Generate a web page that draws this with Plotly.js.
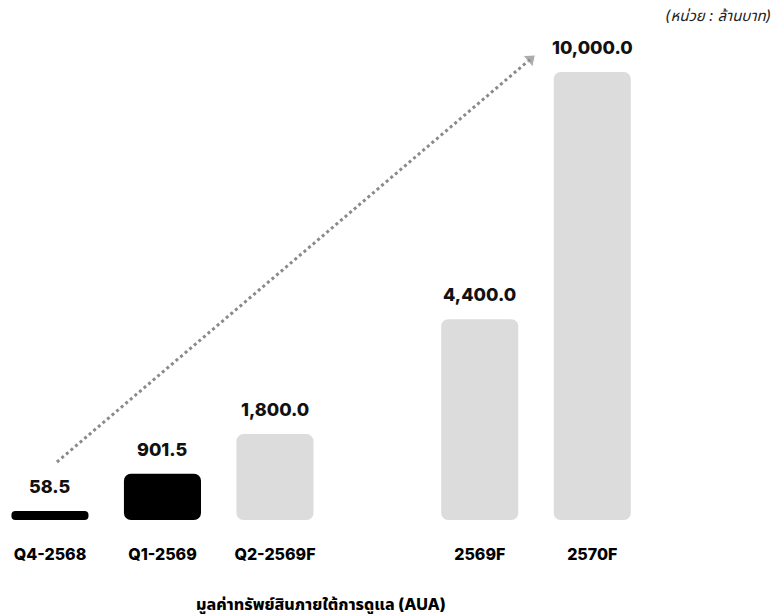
<!DOCTYPE html>
<html>
<head>
<meta charset="utf-8">
<script src="https://cdn.plot.ly/plotly-3.0.1.min.js"></script>
<style>html,body{margin:0;padding:0;background:#fff;}#chart{width:777px;height:614px;}</style>
</head>
<body>
<div id="chart"></div>
<script>
const categories = ["Q4-2568", "Q1-2569", "Q2-2569F", "2569F", "2570F"];
const values = [58.5, 901.5, 1800.0, 4400.0, 10000.0];
const labels = ["58.5", "901.5", "1,800.0", "4,400.0", "10,000.0"];
const barColors = ["#000000", "#000000", "#dcdcdc", "#dcdcdc", "#dcdcdc"];
const axisTitle = "มูลค่าทรัพย์สินภายใต้การดูแล (AUA)";
const unitLabel = "(หน่วย : ล้านบาท)";

// layout: a wider gap before the yearly forecasts
const gapAfter = 2;
const xs = categories.map((c, i) => i + (i > gapAfter ? 0.82 : 0));
// bars start a little below zero so that tiny values stay visible
const BASE = -145;

const FONT = "Inter, 'Noto Sans', 'Noto Sans Thai', sans-serif";

const bars = {
  type: "bar",
  x: xs,
  y: values.map(v => v - BASE),
  base: BASE,
  width: 0.685,
  marker: { color: barColors, cornerradius: 7, line: { width: 0 } },
  hoverinfo: "skip"
};

const arrow = {
  type: "scatter",
  mode: "lines+markers",
  x: [0.062, 4.27],
  y: [1168, 10290],
  line: { color: "#8a8a8a", width: 3, dash: "dot" },
  marker: { symbol: ["circle", "triangle-up"], size: [0, 13], color: "#8a8a8a", angleref: "previous" },
  hoverinfo: "skip"
};

const annotations = values.map((v, i) => ({
  x: xs[i], y: v, xref: "x", yref: "y",
  text: labels[i],
  showarrow: false, yanchor: "bottom", yshift: 12,
  font: { family: FONT, size: 18, color: "#111", weight: 800 }
}));
annotations.push({
  x: (xs[0] + xs[xs.length - 1]) / 2, xref: "x",
  y: 0, yref: "paper", yanchor: "middle", yshift: -84,
  text: axisTitle, showarrow: false,
  font: { family: FONT, size: 16, color: "#000", weight: 800 }
});
annotations.push({
  x: 1, xref: "paper", xanchor: "right", xshift: -4,
  y: 1, yref: "paper", yanchor: "middle", yshift: 25,
  text: "<i>" + unitLabel + "</i>", showarrow: false,
  font: { family: FONT, size: 15, color: "#222" }
});

const layout = {
  width: 777, height: 614,
  margin: { l: 0, r: 0, t: 40, b: 94 },
  paper_bgcolor: "#fff", plot_bgcolor: "#fff",
  showlegend: false,
  xaxis: {
    range: [-0.444, 6.462], tickmode: "array", tickvals: xs,
    ticktext: categories,
    showgrid: false, zeroline: false, showline: false, ticks: "",
    ticklabelstandoff: 23,
    tickfont: { family: FONT, size: 16, color: "#000", weight: 800 },
    fixedrange: true
  },
  yaxis: {
    range: [BASE, 10724], visible: false, showgrid: false, zeroline: false, fixedrange: true
  },
  annotations: annotations
};

Plotly.newPlot("chart", [bars, arrow], layout, { displayModeBar: false, staticPlot: true });
</script>
</body>
</html>
